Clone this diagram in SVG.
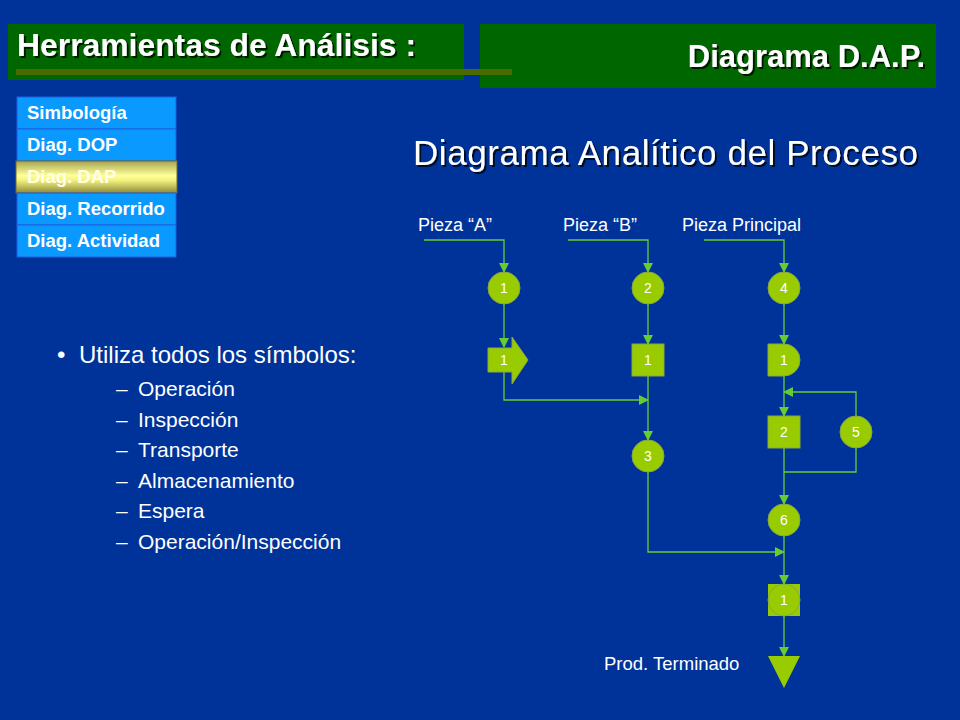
<svg xmlns="http://www.w3.org/2000/svg" width="960" height="720" viewBox="0 0 960 720">
<defs>
  <style>
    .hdr { font-family: "Liberation Sans", Arial, sans-serif; font-weight: bold; fill: #ffffff; }
    .menu-box { fill: #0A99FF; stroke: #1E5FE0; stroke-width: 1; }
    .menu-txt { font-family: "Liberation Sans", Arial, sans-serif; font-weight: bold; font-size: 18.5px; fill: #ffffff; }
    .body { font-family: "Liberation Sans", Arial, sans-serif; fill: #ffffff; }
    .node { fill: #99CC00; stroke: #8AA845; stroke-width: 1; }
    .num { font-family: "Liberation Sans", Arial, sans-serif; font-size: 14px; fill: #ffffff; text-anchor: middle; }
    .conn { fill: none; stroke: #66CC33; stroke-width: 1.3; }
  </style>
  <marker id="arr" markerWidth="10" markerHeight="10" refX="9" refY="5" orient="auto" markerUnits="userSpaceOnUse" viewBox="0 0 10 10">
    <path d="M0,0 L10,5 L0,10 Z" fill="#66CC33"/>
  </marker>
  <linearGradient id="gold" x1="0" y1="0" x2="0" y2="1">
    <stop offset="0" stop-color="#A8A450"/>
    <stop offset="0.45" stop-color="#FFFF99"/>
    <stop offset="0.6" stop-color="#F4F280"/>
    <stop offset="1" stop-color="#8E8A38"/>
  </linearGradient>
  <filter id="shadow" x="-5%" y="-20%" width="110%" height="150%">
    <feDropShadow dx="2" dy="2" stdDeviation="0.6" flood-color="#000000" flood-opacity="0.75"/>
  </filter>
</defs>

<rect x="0" y="0" width="960" height="720" fill="#003399"/>

<g id="header-left">
  <rect x="8" y="24" width="456" height="56" fill="#006600"/>
  <text class="hdr" x="17" y="56" font-size="31" textLength="399" lengthAdjust="spacingAndGlyphs" filter="url(#shadow)">Herramientas de Análisis :</text>
</g>
<g id="header-right">
  <rect x="480" y="24" width="456" height="64" fill="#006600"/>
  <text class="hdr" x="925" y="67" font-size="31" text-anchor="end" filter="url(#shadow)">Diagrama D.A.P.</text>
</g>
<rect id="header-rule" x="16" y="69" width="496" height="6" fill="#4B6B00"/>

<g id="menu">
  <g id="menu-simbologia">
    <rect class="menu-box" x="17" y="97" width="159" height="32"/>
    <text class="menu-txt" x="27" y="119">Simbología</text>
  </g>
  <g id="menu-dop">
    <rect class="menu-box" x="17" y="129" width="159" height="32"/>
    <text class="menu-txt" x="27" y="151">Diag. DOP</text>
  </g>
  <g id="menu-dap">
    <rect x="16" y="161" width="161" height="32" fill="url(#gold)" stroke="#6F6C2A" stroke-width="1"/>
    <text class="menu-txt" x="27" y="183" fill="#FFFFE0" style="fill:#FFFFE6">Diag. DAP</text>
  </g>
  <g id="menu-recorrido">
    <rect class="menu-box" x="17" y="193" width="159" height="32"/>
    <text class="menu-txt" x="27" y="215">Diag. Recorrido</text>
  </g>
  <g id="menu-actividad">
    <rect class="menu-box" x="17" y="225" width="159" height="32"/>
    <text class="menu-txt" x="27" y="247">Diag. Actividad</text>
  </g>
</g>

<text id="title" class="body" x="413" y="165" font-size="35" textLength="505" lengthAdjust="spacing" filter="url(#shadow)">Diagrama Analítico del Proceso</text>

<g id="bullets" class="body">
  <text x="57" y="363" font-size="24">•</text>
  <text x="79" y="363" font-size="24">Utiliza todos los símbolos:</text>
  <g font-size="21">
    <text x="116" y="396">–</text><text x="138" y="396">Operación</text>
    <text x="116" y="426.5">–</text><text x="138" y="426.5">Inspección</text>
    <text x="116" y="457">–</text><text x="138" y="457">Transporte</text>
    <text x="116" y="487.5">–</text><text x="138" y="487.5">Almacenamiento</text>
    <text x="116" y="518">–</text><text x="138" y="518">Espera</text>
    <text x="116" y="548.5">–</text><text x="138" y="548.5">Operación/Inspección</text>
  </g>
</g>

<g id="labels" class="body" font-size="18">
  <text x="418" y="231">Pieza “A”</text>
  <text x="563" y="231">Pieza “B”</text>
  <text x="682" y="231">Pieza Principal</text>
  <text x="604" y="670" font-size="18.5">Prod. Terminado</text>
</g>

<g id="connectors">
  <path class="conn" d="M424,240 H504 V272" marker-end="url(#arr)"/>
  <path class="conn" d="M568,240 H648 V272" marker-end="url(#arr)"/>
  <path class="conn" d="M704,240 H784 V272" marker-end="url(#arr)"/>
  <path class="conn" d="M504,304 V347" marker-end="url(#arr)"/>
  <path class="conn" d="M648,304 V344" marker-end="url(#arr)"/>
  <path class="conn" d="M784,304 V344" marker-end="url(#arr)"/>
  <path class="conn" d="M504,372 V400 H648" marker-end="url(#arr)"/>
  <path class="conn" d="M648,376 V440" marker-end="url(#arr)"/>
  <path class="conn" d="M784,376 V416" marker-end="url(#arr)"/>
  <path class="conn" d="M856,416 V392 H784" marker-end="url(#arr)"/>
  <path class="conn" d="M784,448 V504" marker-end="url(#arr)"/>
  <path class="conn" d="M856,448 V472 H784"/>
  <path class="conn" d="M648,472 V552 H784" marker-end="url(#arr)"/>
  <path class="conn" d="M784,536 V584" marker-end="url(#arr)"/>
  <path class="conn" d="M784,616 V656" marker-end="url(#arr)"/>
</g>

<g id="op-1">
  <circle class="node" cx="504" cy="288" r="16"/>
  <text class="num" x="504" y="293">1</text>
</g>
<g id="op-2">
  <circle class="node" cx="648" cy="288" r="16"/>
  <text class="num" x="648" y="293">2</text>
</g>
<g id="op-4">
  <circle class="node" cx="784" cy="288" r="16"/>
  <text class="num" x="784" y="293">4</text>
</g>
<g id="transport-1">
  <polygon class="node" points="488,348 512,348 512,337 528,360 512,384 512,372 488,372"/>
  <text class="num" x="504" y="365">1</text>
</g>
<g id="insp-1">
  <rect class="node" x="632" y="344" width="32" height="32"/>
  <text class="num" x="648" y="365">1</text>
</g>
<g id="wait-1">
  <path class="node" d="M768,344 H784 A16,16 0 0 1 784,376 H768 Z"/>
  <text class="num" x="784" y="365">1</text>
</g>
<g id="insp-2">
  <rect class="node" x="768" y="416" width="32" height="32"/>
  <text class="num" x="784" y="437">2</text>
</g>
<g id="op-5">
  <circle class="node" cx="856" cy="432" r="16"/>
  <text class="num" x="856" y="437">5</text>
</g>
<g id="op-3">
  <circle class="node" cx="648" cy="456" r="16"/>
  <text class="num" x="648" y="461">3</text>
</g>
<g id="op-6">
  <circle class="node" cx="784" cy="520" r="16"/>
  <text class="num" x="784" y="525">6</text>
</g>
<g id="opinsp-1">
  <rect x="768" y="584" width="32" height="32" fill="#99CC00"/>
  <circle cx="784" cy="600" r="16" fill="#99CC00" stroke="#8AA845" stroke-width="1"/>
  <text class="num" x="784" y="605">1</text>
</g>
<g id="storage">
  <polygon class="node" points="768,656 800,656 784,688" style="stroke:none"/>
</g>
</svg>
